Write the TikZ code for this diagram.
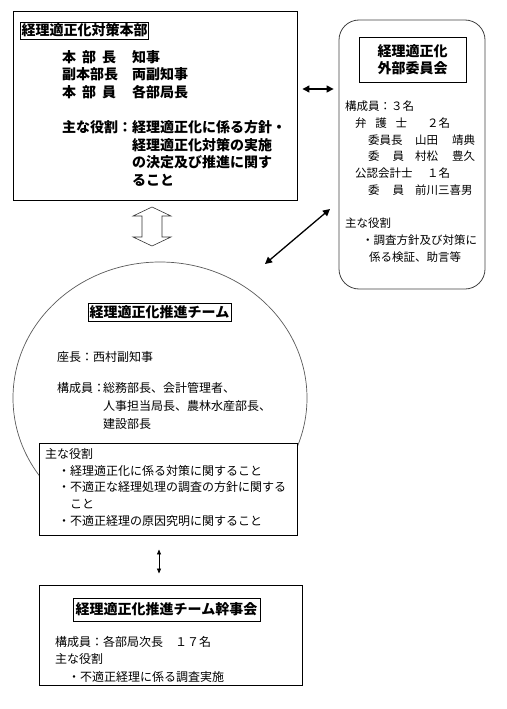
\documentclass[tikz,border=0pt]{standalone}
\usepackage{fontspec}
\setmainfont{Noto Sans CJK JP}
\usetikzlibrary{arrows.meta,shapes.geometric}

\begin{document}
\begin{tikzpicture}[x=1pt,y=-1pt,
    frame/.style={draw, line width=0.9pt, inner sep=0pt},
    titlebox/.style={draw, line width=0.8pt, inner sep=1pt, align=center, font=\fontsize{14}{17}\selectfont\bfseries},
    body/.style={inner sep=0pt, anchor=north west, align=left},
    biarrow/.style={{Triangle[length=7pt,width=7pt]}-{Triangle[length=7pt,width=7pt]}, line width=1.3pt},
    thinarrow/.style={{Triangle[length=5pt,width=4pt]}-{Triangle[length=5pt,width=4pt]}, line width=0.8pt}]

    \useasboundingbox (0,0) rectangle (506,709);

    % containers
    \node[frame, minimum width=284pt, minimum height=189pt] (hq) at (155,105.5) {};
    \node[frame, draw=black!75, line width=0.8pt, rounded corners=20pt, minimum width=146pt, minimum height=269pt] (ext) at (412,154.5) {};
    \node[ellipse, draw=black!65, line width=0.7pt, minimum width=294pt, minimum height=272pt, inner sep=0pt] (team) at (160,398) {};
    \node[frame, fill=white, minimum width=258pt, minimum height=92pt] (teamrole) at (168,489) {};
    \node[frame, minimum width=263pt, minimum height=100pt] (kanji) at (170.5,635) {};

    % titles
    \node[titlebox, minimum width=127pt, minimum height=17pt] (hqtitle) at (84.5,30.5) {経理適正化対策本部};
    \node[titlebox, minimum width=107pt, minimum height=45pt] (exttitle) at (412.5,59.5) {経理適正化\\外部委員会};
    \node[titlebox, minimum width=143pt, minimum height=18pt] (teamtitle) at (159.5,312) {経理適正化推進チーム};
    \node[titlebox, minimum width=187pt, minimum height=23pt] (kanjititle) at (166.5,609.5) {経理適正化推進チーム幹事会};

    % texts
    \node[body, font=\fontsize{14}{17.5}\selectfont\bfseries] (hqtext) at (62,50) {%
      \makebox[70pt][l]{\makebox[54pt][s]{本\hfill 部\hfill 長}}知事\\
      \makebox[70pt][l]{副本部長}両副知事\\
      \makebox[70pt][l]{\makebox[54pt][s]{本\hfill 部\hfill 員}}各部局長\\[18pt]
      \makebox[70pt][l]{主な役割：}経理適正化に係る方針・\\
      \hspace*{70pt}経理適正化対策の実施\\
      \hspace*{70pt}の決定及び推進に関す\\
      \hspace*{70pt}ること};
    \node[body, font=\fontsize{11.5}{16.7}\selectfont] (exttext) at (345,101) {%
      構成員：３名\\
      \hspace*{10pt}\makebox[52pt][s]{弁\hfill 護\hfill 士}\hspace*{20pt}２名\\
      \hspace*{23pt}\makebox[47pt][l]{委員長}\makebox[37pt][l]{山田}靖典\\
      \hspace*{23pt}\makebox[47pt][l]{\makebox[36pt][s]{委\hfill 員}}\makebox[37pt][l]{村松}豊久\\
      \hspace*{10pt}\makebox[72pt][l]{公認会計士}１名\\
      \hspace*{23pt}\makebox[47pt][l]{\makebox[36pt][s]{委\hfill 員}}前川三喜男\\[16.7pt]
      主な役割\\
      \hspace*{17pt}・調査方針及び対策に\\
      \hspace*{24pt}係る検証、助言等};
    \node[body, font=\fontsize{12}{18}\selectfont] (teamtext) at (57,351) {%
      座長：西村副知事\\[13pt]
      \makebox[46pt][l]{構成員：}総務部長、会計管理者、\\
      \hspace*{46pt}人事担当局長、農林水産部長、\\
      \hspace*{46pt}建設部長};
    \node[body, font=\fontsize{12}{16.8}\selectfont] (roletext) at (45,448) {%
      主な役割\\
      \hspace*{13pt}・経理適正化に係る対策に関すること\\
      \hspace*{13pt}・不適正な経理処理の調査の方針に関する\\
      \hspace*{25pt}こと\\
      \hspace*{13pt}・不適正経理の原因究明に関すること};
    \node[body, font=\fontsize{12}{17.5}\selectfont] (kanjitext) at (55,636) {%
      構成員：各部局次長　１７名\\
      主な役割\\
      \hspace*{13pt}・不適正経理に係る調査実施};

    % connectors
    \coordinate (harrow) at (0,89);
    \draw[biarrow, shorten <=5pt, shorten >=5pt] (hq.east |- harrow) -- (ext.west |- harrow);
    \coordinate (dlo) at (265,264);
    \coordinate (dhi) at (330,209);
    \draw[biarrow] (dlo) -- (dhi);
    \coordinate (varrow) at (159,0);
    \draw[thinarrow, shorten <=14pt, shorten >=11pt] (teamrole.south -| varrow) -- (kanji.north -| varrow);

    % hollow double arrow
    \coordinate (hollow) at (152,226.5);
    \draw[line width=0.6pt, draw=black!80] (hollow) ++(0,-19.5) -- ++(19,9) -- ++(-9,0) -- ++(0,21) -- ++(9,0)
      -- ++(-19,9) -- ++(-19,-9) -- ++(9,0) -- ++(0,-21) -- ++(-9,0) -- cycle;
\end{tikzpicture}
\end{document}
